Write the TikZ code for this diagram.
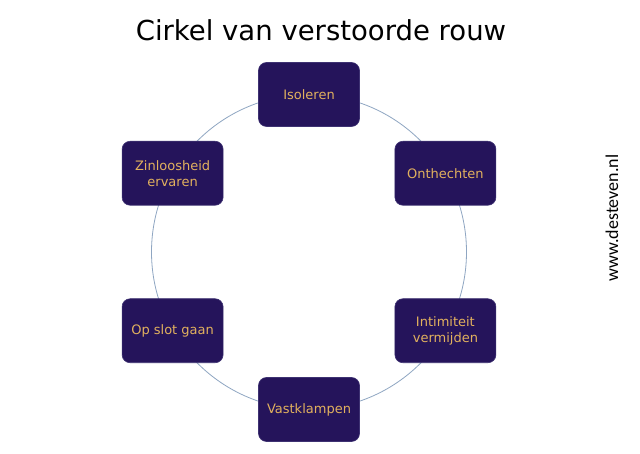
\documentclass[tikz,border=0pt]{standalone}
\usepackage{fontspec}
\usetikzlibrary{calc}
\setmainfont{DejaVu Sans}
\newfontfamily\wmfont{Carlito}
\definecolor{boxfill}{HTML}{25145B}
\definecolor{boxline}{HTML}{3E3272}
\definecolor{boxtext}{HTML}{E2B15E}
\definecolor{ringcol}{HTML}{8FA6C2}
\begin{document}
\begin{tikzpicture}[x=1pt,y=1pt,
  stage/.style={draw=boxline, line width=0.6pt, fill=boxfill, rounded corners=8pt,
    minimum width=101pt, minimum height=64pt, text=boxtext, align=center,
    font=\fontsize{13}{16}\selectfont, inner sep=2pt}]
\useasboundingbox (0,0) rectangle (640,454);
\fill[white] (0,0) rectangle (640,454);
\coordinate (c) at (309,202);
\draw[ringcol, line width=0.8pt] (c) circle (157.5);
\node[stage] (iso) at ($(c)+(90:157.5)$) {Isoleren};
\node[stage] (ont) at ($(c)+(30:157.5)$) {Onthechten};
\node[stage] (int) at ($(c)+(-30:157.5)$) {Intimiteit\\vermijden};
\node[stage] (vas) at ($(c)+(-90:157.5)$) {Vastklampen};
\node[stage] (ops) at ($(c)+(210:157.5)$) {Op slot gaan};
\node[stage] (zin) at ($(c)+(150:157.5)$) {Zinloosheid\\ervaren};
\node[font=\fontsize{27.5}{30}\selectfont, anchor=base] (title) at (321,413) {Cirkel van verstoorde rouw};
\node[font=\wmfont\fontsize{18}{20}\selectfont, rotate=90, anchor=base] (wm) at (618,236) {www.desteven.nl};
\end{tikzpicture}
\end{document}
